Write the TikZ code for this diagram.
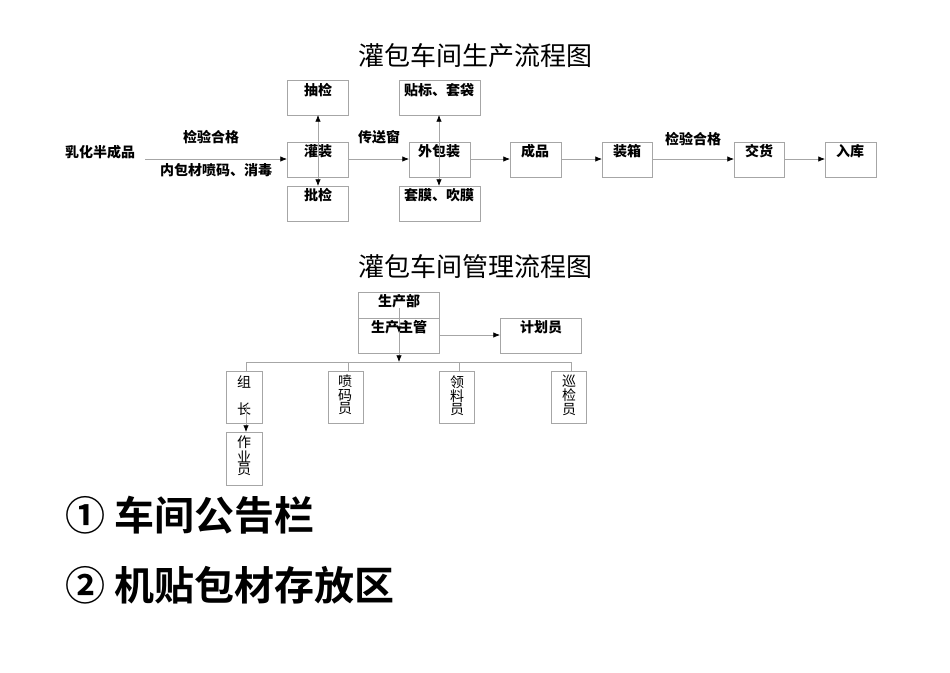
\documentclass[tikz,border=0pt]{standalone}
\usepackage{fontspec}
\setmainfont{Noto Sans CJK SC}
\newfontfamily\cjkb{Noto Sans CJK SC Bold}
\begin{document}
\begin{tikzpicture}[x=0.75pt,y=-0.75pt,
  bx/.style={draw=gray!70,line width=0.5pt,inner sep=0pt},
  ln/.style={draw=gray!70,line width=0.5pt},
  ar/.style={ln,-{Latex[length=5pt,width=4pt,black]}},
  lb/.style={font=\fontsize{10.5}{12}\selectfont\bfseries,inner sep=0pt},
  vt/.style={font=\fontsize{10.5}{9}\selectfont,align=center,inner sep=0pt,anchor=north},
  ttl/.style={font=\fontsize{19.5}{22}\selectfont,inner sep=0pt},
  big/.style={font=\fontsize{30}{34}\selectfont\cjkb,inner sep=0pt,anchor=west}]
\usetikzlibrary{arrows.meta}
\useasboundingbox (0,0) rectangle (950,672);
\node[ttl] (t1) at (475,56) {灌包车间生产流程图};
\node[ttl] (t2) at (475,267) {灌包车间管理流程图};
% top row
\path[bx] (287,80) rectangle (348,115) coordinate (cjB) (287,142) rectangle (348,177) (287,186) rectangle (348,221)
 (399,80) rectangle (480,115) (409,142) rectangle (470,177) (399,186) rectangle (480,221)
 (510,142) rectangle (561,177) (602,142) rectangle (652,177) (734,142) rectangle (784,177) (825,142) rectangle (876,177);
\node[lb] (cj) at (318,90) {抽检};
\node[lb] (gz) at (318,151) {灌装};
\node[lb] (pj) at (318,195) {批检};
\node[lb] (tb) at (439,90) {贴标、套袋};
\node[lb] (wb) at (439,151) {外包装};
\node[lb] (tm) at (439,195) {套膜、吹膜};
\node[lb] (cp) at (535,151) {成品};
\node[lb] (zx) at (627,151) {装箱};
\node[lb] (jh) at (759,151) {交货};
\node[lb] (rk) at (850,151) {入库};
\node[lb] (rh) at (100,152) {乳化半成品};
\node[lb] (l1) at (211,137) {检验合格};
\node[lb] (l2) at (216,170) {内包材喷码、消毒};
\node[lb] (l3) at (379,137) {传送窗};
\node[lb] (l4) at (693,139) {检验合格};
\coordinate (a0) at (145,159); \coordinate (a1) at (287,159);
\draw[ar] (a0) -- (a1);
\draw[ar] (348,159) -- (409,159);
\draw[ar] (470,159) -- (510,159);
\draw[ar] (561,159) -- (602,159);
\draw[ar] (652,159) -- (734,159);
\draw[ar] (784,159) -- (825,159);
\draw[ar] (318,159) -- (318,115);
\draw[ar] (318,159) -- (318,186);
\draw[ar] (439,159) -- (439,115);
\draw[ar] (439,159) -- (439,186);
% management
\path[bx] (358,292) rectangle (439,318) (358,318) rectangle (439,353) (500,318) rectangle (581,353)
 (226,371) rectangle (262,423) (328,371) rectangle (363,423) (439,371) rectangle (474,423) (551,371) rectangle (586,423)
 (226,432) rectangle (262,485);
\node[lb] (scb) at (399,301) {生产部};
\node[lb] (sczg) at (399,327) {生产主管};
\node[lb] (jhy) at (541,327) {计划员};
\draw[ar] (439,335) -- (500,335);
\draw[ar] (399,308) -- (399,333);
\draw[ar] (399,333) -- (399,362);
\draw[ln] (246,371) -- (246,362) -- (571,362) -- (571,371);
\draw[ln] (348,362) -- (348,371) (459,362) -- (459,371);
\node[vt] (zz) at (244,375) {组\\[10pt]长};
\node[vt] (pmy) at (345,375) {喷\\码\\员};
\node[vt] (lly) at (457,375) {领\\料\\员};
\node[vt] (xjy) at (569,375) {巡\\检\\员};
\node[vt] (zyy) at (244,436) {作\\业\\员};
\draw[ar] (246,405) -- (246,432);
\node[big] (g1) at (65,515) {① 车间公告栏};
\node[big] (g2) at (65,585) {② 机贴包材存放区};
\end{tikzpicture}
\end{document}
